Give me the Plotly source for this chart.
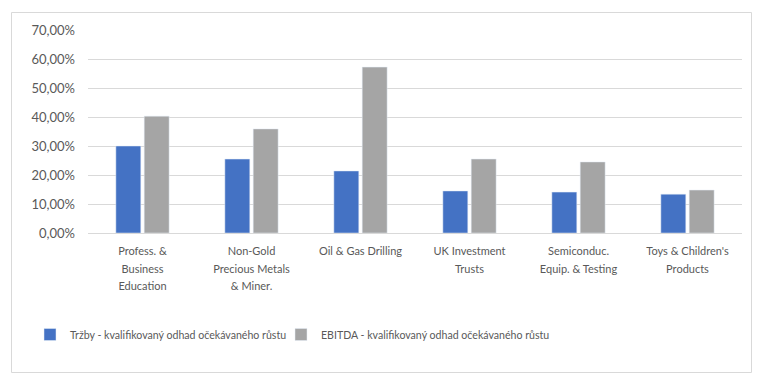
import plotly.graph_objects as go

categories = ["Profess. &<br>Business<br>Education", "Non-Gold<br>Precious Metals<br>& Miner.",
              "Oil & Gas Drilling", "UK Investment<br>Trusts", "Semiconduc.<br>Equip. & Testing",
              "Toys & Children's<br>Products"]
trzby = [0.300, 0.255, 0.214, 0.145, 0.141, 0.134]
ebitda = [0.403, 0.359, 0.572, 0.255, 0.245, 0.148]
tick_vals = [0, 0.1, 0.2, 0.3, 0.4, 0.5, 0.6, 0.7]
tick_text = ["0,00%", "10,00%", "20,00%", "30,00%", "40,00%", "50,00%", "60,00%", "70,00%"]

FONT = "Lato, sans-serif"
fig = go.Figure()
fig.add_trace(go.Bar(x=categories, y=trzby, name="Tržby - kvalifikovaný odhad očekávaného růstu",
                     marker_color="#4472C4", legend="legend"))
fig.add_trace(go.Bar(x=categories, y=ebitda, name="EBITDA - kvalifikovaný odhad očekávaného růstu",
                     marker_color="#A5A5A5", legend="legend2"))

cat_labels = ['<span style="font-size:11px">' + "<br>".join(
    '<span style="font-size:11px">%s</span>' % part for part in c.split("<br>")) + "</span>"
    for c in categories]

L, R, T, B = 88, 769 - 742, 30, 383 - 233
pw, ph = 769 - L - R, 383 - T - B
leg_common = dict(orientation="h", y=(233 - 320) / ph, xanchor="left", yanchor="top",
                  font=dict(size=10.6, color="#595959"), itemwidth=30, bgcolor="rgba(0,0,0,0)")
fig.update_layout(
    width=769, height=383,
    margin=dict(l=L, r=R, t=T, b=B, pad=0, autoexpand=False),
    paper_bgcolor="white", plot_bgcolor="white",
    barmode="group", bargap=0.48, bargroupgap=0.12,
    font=dict(family=FONT, size=13, color="#595959"),
    showlegend=True,
    legend=dict(x=(30 - L) / pw, **leg_common),
    legend2=dict(x=(281 - L) / pw, **leg_common),
    xaxis=dict(showgrid=False, showline=True, linecolor="#D9D9D9", linewidth=1, ticks="",
               ticklabelstandoff=4, tickmode="array", tickvals=categories, ticktext=cat_labels,
               tickfont=dict(size=13.8, color="#595959"), tickangle=0, fixedrange=True),
    yaxis=dict(range=[0, 0.7], tickvals=tick_vals, ticktext=tick_text, showgrid=True,
               gridcolor="#D9D9D9", gridwidth=1, zeroline=False, showline=False, ticks="",
               ticklabelstandoff=12, tickfont=dict(size=13, color="#595959")),
    shapes=[dict(type="rect", xref="paper", yref="paper",
                 x0=(11.5 - L) / pw, x1=(751.5 - L) / pw,
                 y0=(233 - 372.5) / ph, y1=(233 - 12.5) / ph,
                 line=dict(color="#D9D9D9", width=1), fillcolor="rgba(0,0,0,0)", layer="below")],
)
fig.write_html("out.html", config={"displayModeBar": False},
               post_script="document.body.style.margin='0';document.body.style.overflow='hidden';")
